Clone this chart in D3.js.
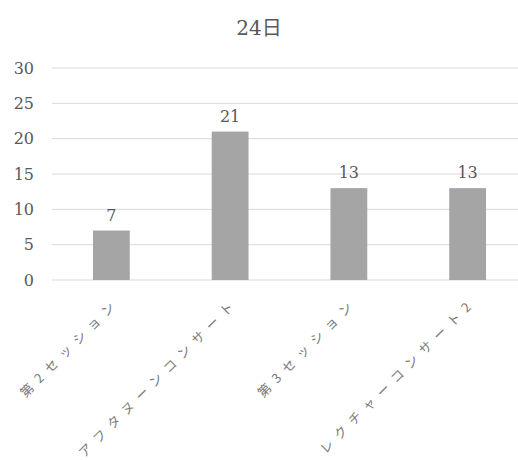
<!DOCTYPE html>
<html>
<head>
<meta charset="utf-8">
<script src="https://cdn.jsdelivr.net/npm/d3@7"></script>
<style>
  body { margin: 0; background: #fff; }
  text { font-family: "DejaVu Serif", "Liberation Serif", "Noto Sans CJK JP", serif; fill: #595959; }
  .cat text { font-family: "Noto Sans CJK JP", sans-serif; fill: #7a7a7a; }
</style>
</head>
<body>
<div id="chart"></div>
<script>
const title = "24日";
const categories = ["第2セッション", "アフタヌーンコンサート", "第3セッション", "レクチャーコンサート2"];
const values = [7, 21, 13, 13];
const yTicks = [0, 5, 10, 15, 20, 25, 30];

const W = 518, H = 460;
const margin = { top: 68, right: -9, bottom: 180, left: 52 };
const width = W - margin.left - margin.right;
const height = H - margin.top - margin.bottom;

const svg = d3.select("#chart").append("svg")
  .attr("width", W).attr("height", H);

svg.append("text")
  .attr("x", W / 2).attr("y", 35)
  .attr("text-anchor", "middle")
  .style("font-size", "20px")
  .text(title);

const g = svg.append("g").attr("transform", `translate(${margin.left},${margin.top})`);

const x = d3.scaleBand().domain(categories).range([0, width]).paddingInner(0.69).paddingOuter(0.345);
const y = d3.scaleLinear().domain([0, 30]).range([height, 0]);

// gridlines
g.selectAll(".grid")
  .data(yTicks)
  .join("line")
  .attr("x1", 0).attr("x2", width)
  .attr("y1", d => y(d)).attr("y2", d => y(d))
  .attr("stroke", "#d9d9d9").attr("stroke-width", 1);

// y tick labels
g.selectAll(".ytick")
  .data(yTicks)
  .join("text")
  .attr("x", -18).attr("y", d => y(d))
  .attr("dy", "0.36em")
  .attr("text-anchor", "end")
  .style("font-size", "16px")
  .text(d => d);

// bars
g.selectAll(".bar")
  .data(values)
  .join("rect")
  .attr("x", (d, i) => x(categories[i]))
  .attr("width", x.bandwidth())
  .attr("y", d => y(d))
  .attr("height", d => height - y(d))
  .attr("fill", "#a5a5a5");

// value labels
g.selectAll(".val")
  .data(values)
  .join("text")
  .attr("x", (d, i) => x(categories[i]) + x.bandwidth() / 2)
  .attr("y", d => y(d) - 10)
  .attr("text-anchor", "middle")
  .style("font-size", "16px")
  .text(d => d);

// category labels rotated
const cat = g.append("g").attr("class", "cat");
cat.selectAll("text")
  .data(categories)
  .join("text")
  .attr("transform", d => `translate(${x(d) + x.bandwidth() / 2 + 6},${height + 20}) rotate(-45)`)
  .attr("text-anchor", "end")
  .attr("dy", "0.35em")
  .style("font-size", "13px")
  .style("letter-spacing", "7px")
  .text(d => d);
</script>
</body>
</html>
